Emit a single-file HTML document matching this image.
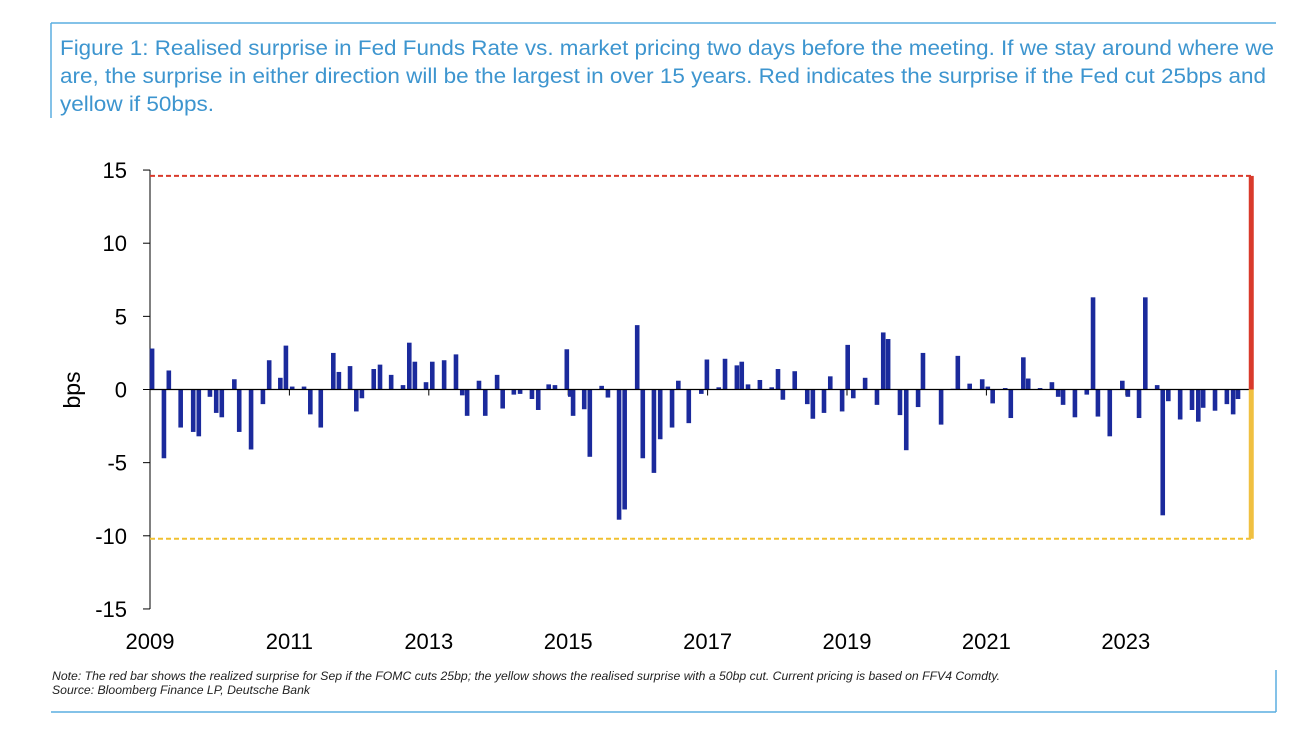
<!DOCTYPE html>
<html><head><meta charset="utf-8"><style>
body{margin:0;background:#fff;width:1308px;height:744px;overflow:hidden;font-family:"Liberation Sans",sans-serif}
</style></head><body>
<svg width="1308" height="744" xmlns="http://www.w3.org/2000/svg">
<line x1="51" y1="23" x2="1276" y2="23" stroke="#5aaee0" stroke-width="1.5"/>
<line x1="51" y1="23" x2="51" y2="118" stroke="#5aaee0" stroke-width="1.5"/>
<line x1="51" y1="712" x2="1276" y2="712" stroke="#5aaee0" stroke-width="1.5"/>
<line x1="1276" y1="670" x2="1276" y2="712" stroke="#5aaee0" stroke-width="1.5"/>
<g font-size="21" fill="#3d95cf">
<text x="60" y="55" textLength="1214" lengthAdjust="spacingAndGlyphs">Figure 1: Realised surprise in Fed Funds Rate vs. market pricing two days before the meeting. If we stay around where we</text>
<text x="60" y="83" textLength="1206" lengthAdjust="spacingAndGlyphs">are, the surprise in either direction will be the largest in over 15 years. Red indicates the surprise if the Fed cut 25bps and</text>
<text x="60" y="111" textLength="154" lengthAdjust="spacingAndGlyphs">yellow if 50bps.</text>
</g>
<g id="plot"></g>
<text transform="translate(80,390) rotate(-90)" text-anchor="middle" font-size="23" fill="#000">bps</text>
<g font-size="11.5" font-style="italic" fill="#222">
<text x="52" y="680" textLength="948" lengthAdjust="spacingAndGlyphs">Note: The red bar shows the realized surprise for Sep if the FOMC cuts 25bp; the yellow shows the realised surprise with a 50bp cut. Current pricing is based on FFV4 Comdty.</text>
<text x="52" y="694" textLength="258" lengthAdjust="spacingAndGlyphs">Source: Bloomberg Finance LP, Deutsche Bank</text>
</g>
</svg>
<script>
const dates=[0.03,0.20,0.27,0.44,0.62,0.70,0.86,0.95,1.03,1.21,1.28,1.45,1.62,1.71,1.87,1.95,2.04,2.21,2.30,2.45,2.63,2.71,2.87,2.96,3.04,3.21,3.30,3.46,3.63,3.72,3.80,3.96,4.05,4.22,4.39,4.48,4.55,4.72,4.81,4.98,5.06,5.22,5.31,5.48,5.57,5.72,5.81,5.98,6.03,6.07,6.23,6.31,6.48,6.57,6.73,6.81,6.99,7.07,7.23,7.32,7.49,7.58,7.73,7.91,7.99,8.16,8.25,8.42,8.49,8.58,8.75,8.92,9.01,9.08,9.25,9.43,9.51,9.67,9.76,9.93,10.01,10.09,10.26,10.43,10.52,10.59,10.76,10.85,11.02,11.09,11.35,11.52,11.59,11.76,11.94,12.02,12.09,12.27,12.35,12.53,12.60,12.77,12.94,13.03,13.10,13.27,13.44,13.53,13.60,13.77,13.95,14.03,14.19,14.28,14.45,14.53,14.61,14.78,14.95,15.04,15.11,15.28,15.45,15.54,15.61];
const values=[2.8,-4.7,1.3,-2.6,-2.9,-3.2,-0.5,-1.6,-1.9,0.7,-2.9,-4.1,-1.0,2.0,0.8,3.0,0.2,0.2,-1.7,-2.6,2.5,1.2,1.6,-1.5,-0.6,1.4,1.7,1.0,0.3,3.2,1.9,0.5,1.9,2.0,2.4,-0.4,-1.8,0.6,-1.8,1.0,-1.3,-0.35,-0.3,-0.65,-1.4,0.35,0.3,2.75,-0.5,-1.8,-1.35,-4.6,0.25,-0.55,-8.9,-8.2,4.4,-4.7,-5.7,-3.4,-2.6,0.6,-2.3,-0.3,2.05,0.15,2.1,1.65,1.9,0.35,0.65,0.15,1.4,-0.7,1.25,-1.0,-2.0,-1.6,0.9,-1.5,3.05,-0.6,0.8,-1.05,3.9,3.45,-1.75,-4.15,-1.2,2.5,-2.4,0.05,2.3,0.4,0.7,0.2,-0.95,0.1,-1.95,2.2,0.75,0.1,0.5,-0.5,-1.05,-1.9,-0.35,6.3,-1.85,-3.2,0.6,-0.5,-1.95,6.3,0.3,-8.6,-0.8,-2.05,-1.4,-2.2,-1.25,-1.45,-1.0,-1.7,-0.65];
const cut25=14.6, cut50=-10.2, currentDate=15.80;
const yTicks=[15,10,5,0,-5,-10,-15];
const xTicks=[2009,2011,2013,2015,2017,2019,2021,2023];
const NS='http://www.w3.org/2000/svg', g=document.getElementById('plot');
const X=d=>150+d*69.7, Y=v=>389.5-v*14.63;
function mk(t,a){const e=document.createElementNS(NS,t);for(const k in a)e.setAttribute(k,a[k]);g.appendChild(e);return e;}
let e;
e=mk('line',{x1:150,y1:Y(15),x2:150,y2:Y(-15),stroke:'#000','stroke-width':1});


yTicks.forEach(v=>{
 e=mk('line',{x1:143,y1:Y(v),x2:150,y2:Y(v),stroke:'#000'});
 
 
 e=mk('text',{x:127,y:Y(v)+8,'text-anchor':'end','font-size':22,fill:'#000'});e.textContent=v;
 
 
});
xTicks.forEach(yr=>{
 const x=X(yr-2009);
 e=mk('line',{x1:x,y1:Y(0),x2:x,y2:Y(0)+6,stroke:'#000'});
 
 
 e=mk('text',{x:x,y:649,'text-anchor':'middle','font-size':22,fill:'#000'});e.textContent=yr;
 
 
});
dates.forEach((d,i)=>{
 const v=values[i],y0=Y(0),y1=Y(v);
 e=mk('rect',{x:X(d)-2.3,y:Math.min(y0,y1),width:4.6,height:Math.max(Math.abs(y1-y0),1),fill:'#1b2a9c'});
 
 
});
e=mk('line',{x1:150,y1:Y(0),x2:X(currentDate),y2:Y(0),stroke:'#000','stroke-width':1.2});


e=mk('line',{x1:150,y1:Y(cut25),x2:X(currentDate),y2:Y(cut25),stroke:'#d93a2b','stroke-width':2,'stroke-dasharray':'5,3'});


e=mk('line',{x1:150,y1:Y(cut50),x2:X(currentDate),y2:Y(cut50),stroke:'#f0c030','stroke-width':2,'stroke-dasharray':'5,3'});


e=mk('rect',{x:X(currentDate)-2.5,y:Y(cut25),width:5,height:Y(0)-Y(cut25),fill:'#d93a2b'});


e=mk('rect',{x:X(currentDate)-2.5,y:Y(0),width:5,height:Y(cut50)-Y(0),fill:'#f0c040'});


</script>
</body></html>
